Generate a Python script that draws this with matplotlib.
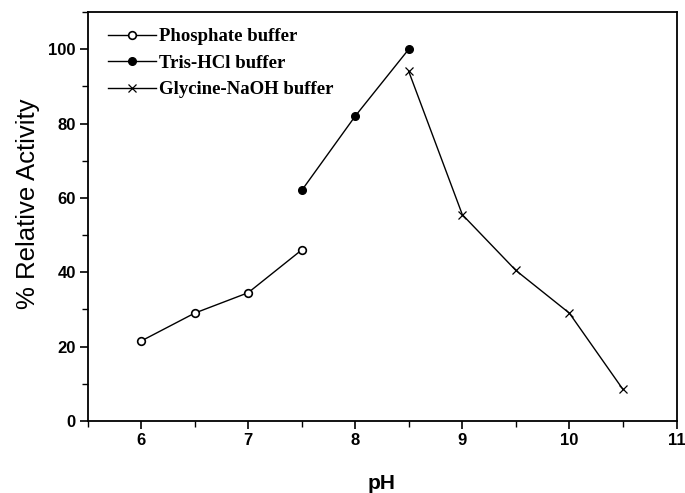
import matplotlib
matplotlib.use("Agg")
import matplotlib.pyplot as plt
from matplotlib.ticker import MultipleLocator

phosphate_ph = [6.0, 6.5, 7.0, 7.5]
phosphate_act = [21.5, 29.0, 34.5, 46.0]
tris_ph = [7.5, 8.0, 8.5]
tris_act = [62.0, 82.0, 100.0]
glycine_ph = [8.5, 9.0, 9.5, 10.0, 10.5]
glycine_act = [94.0, 55.5, 40.5, 29.0, 8.5]
labels = ["Phosphate buffer", "Tris-HCl buffer", "Glycine-NaOH buffer"]

fig = plt.figure(figsize=(6.85, 4.93), dpi=100)
ax = fig.add_axes([87.5/685, 72/493, 589/685, 409/493])

ax.plot(phosphate_ph, phosphate_act, '-', color='black', lw=1.0,
        marker='o', ms=5.5, mfc='white', mec='black', mew=1.2, label=labels[0])
ax.plot(tris_ph, tris_act, '-', color='black', lw=1.0,
        marker='o', ms=5.5, mfc='black', mec='black', mew=1.0, label=labels[1])
ax.plot(glycine_ph, glycine_act, '-', color='black', lw=1.0,
        marker='x', ms=6, mec='black', mew=0.9, label=labels[2])

ax.set_xlim(5.5, 11)
ax.set_ylim(0, 110)
ax.xaxis.set_major_locator(MultipleLocator(1))
ax.xaxis.set_minor_locator(MultipleLocator(0.5))
ax.yaxis.set_major_locator(MultipleLocator(20))
ax.yaxis.set_minor_locator(MultipleLocator(10))
ax.set_xticks([6, 7, 8, 9, 10, 11])

for s in ax.spines.values():
    s.set_linewidth(1.3)
ax.tick_params(which='major', direction='out', length=6, width=1.2, labelsize=12, pad=2.5)
ax.tick_params(which='minor', direction='out', length=4, width=1.0)
for lab in ax.get_xticklabels() + ax.get_yticklabels():
    lab.set_fontfamily('Liberation Sans')
    lab.set_fontweight('bold')

ax.set_xlabel('pH', fontsize=15, fontweight='bold', family='Liberation Sans', labelpad=19)
ax.set_ylabel('% Relative Activity', fontsize=18.5, family='Liberation Sans', labelpad=8)
ax.yaxis.set_label_coords(-0.081, 0.53)

leg = ax.legend(loc='upper left', bbox_to_anchor=(20/589, 1 - 16/409),
                frameon=False, borderaxespad=0, borderpad=0,
                handlelength=2.6, handletextpad=0.15, labelspacing=0.5,
                prop={'family': 'Liberation Serif', 'weight': 'bold', 'size': 13.5})

fig.savefig('out.png', dpi=100)
